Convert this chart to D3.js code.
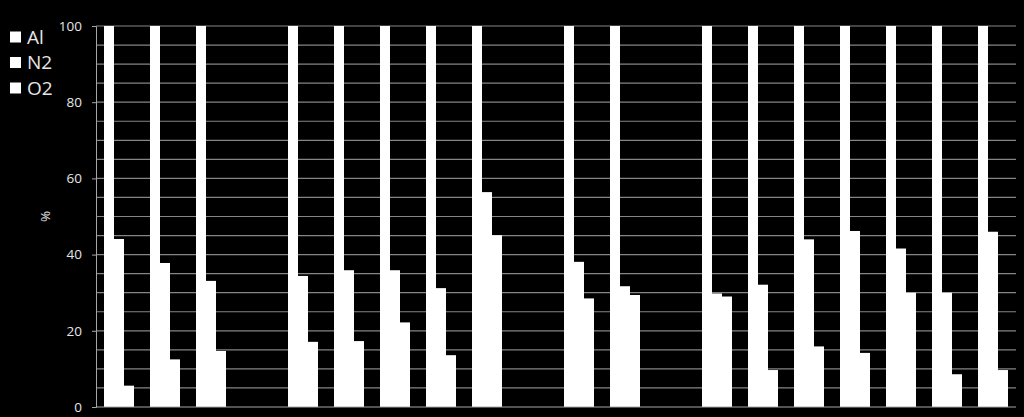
<!DOCTYPE html>
<html>
<head>
<meta charset="utf-8">
<script src="https://cdn.jsdelivr.net/npm/d3@7"></script>
<style>
  html, body { margin: 0; padding: 0; background: #000; }
  svg { display: block; }
  text { font-family: "Open Sans", "Noto Sans", sans-serif; fill: #e6e6e6; }
</style>
</head>
<body>
<svg id="chart"></svg>
<script>
// sample positions (no labels shown on the x axis)
const categories = d3.range(1, 21).map(String);
const seriesNames = ['Al', 'N2', 'O2'];

// % per sample, null = no measurement
const al = [100, 100, 100, null, 100, 100, 100, 100, 100, null, 100, 100, null, 100, 100, 100, 100, 100, 100, 100];
const n2 = [44.1, 37.8, 33.1, null, 34.4, 35.9, 35.9, 31.2, 56.4, null, 38.1, 31.7, null, 29.8, 32.1, 44.0, 46.2, 41.6, 30.0, 46.0];
const o2 = [5.6, 12.5, 14.7, null, 17.1, 17.3, 22.2, 13.6, 45.1, null, 28.5, 29.4, null, 29.0, 9.7, 15.9, 14.2, 30.0, 8.6, 9.7];

const yTicks = [0, 20, 40, 60, 80, 100];

const width = 1024;
const height = 417;
const margin = {top: 26, right: 8, bottom: 10, left: 96};

const svg = d3.select('#chart')
              .attr('width', width)
              .attr('height', height);

svg.append('rect')
   .attr('width', width)
   .attr('height', height)
   .attr('fill', '#000');

const x0 = d3.scaleBand()
             .domain(categories)
             .range([margin.left, width - margin.right])
             .padding(0);

const gap = x0.bandwidth() * 0.348;
const x1 = d3.scaleBand()
             .domain(seriesNames)
             .range([gap / 2, x0.bandwidth() - gap / 2]);

const y = d3.scaleLinear()
            .domain([0, 100])
            .range([height - margin.bottom, margin.top]);

//gridlines every 5
svg.append('g')
   .selectAll('line')
   .data(d3.range(5, 101, 5))
   .join('line')
   .attr('x1', margin.left)
   .attr('x2', width - margin.right)
   .attr('y1', d => y(d))
   .attr('y2', d => y(d))
   .attr('stroke', '#858585')
   .attr('stroke-width', 1.2);

//bars
const rows = categories.map((c, i) => ({cat: c, values: [al[i], n2[i], o2[i]]}));

svg.append('g')
   .selectAll('g')
   .data(rows)
   .join('g')
   .attr('transform', d => `translate(${x0(d.cat)},0)`)
   .selectAll('rect')
   .data(d => d.values.map((v, k) => ({name: seriesNames[k], value: v})).filter(e => e.value != null))
   .join('rect')
   .attr('x', d => x1(d.name))
   .attr('y', d => y(d.value))
   .attr('width', x1.bandwidth())
   .attr('height', d => y(0) - y(d.value))
   .attr('fill', '#fff');

//y axis
const yAxis = svg.append('g')
   .attr('transform', `translate(${margin.left},0)`)
   .call(d3.axisLeft(y).tickValues(yTicks).tickSize(4).tickPadding(10));
yAxis.select('.domain').attr('stroke', '#a6a6a6');
yAxis.selectAll('.tick line').attr('stroke', '#a6a6a6');
yAxis.selectAll('text')
     .style('font-size', '13.5px')
     .attr('fill', '#e6e6e6');

//x axis line
svg.append('line')
   .attr('x1', margin.left)
   .attr('x2', width - margin.right)
   .attr('y1', y(0))
   .attr('y2', y(0))
   .attr('stroke', '#a6a6a6');

svg.append('text')
   .attr('transform', `translate(50,${(y(0) + y(100)) / 2}) rotate(-90)`)
   .attr('text-anchor', 'middle')
   .style('font-size', '13.5px')
   .text('%');

//legend
const legend = svg.append('g')
   .selectAll('g')
   .data(seriesNames)
   .join('g')
   .attr('transform', (d, i) => `translate(10,${37 + i * 25.5})`);

legend.append('rect')
      .attr('x', 0)
      .attr('y', -5.5)
      .attr('width', 11)
      .attr('height', 11)
      .attr('fill', '#fff');

legend.append('text')
      .attr('x', 17)
      .attr('dy', '0.35em')
      .style('font-size', '19px')
      .text(d => d);
</script>
</body>
</html>
